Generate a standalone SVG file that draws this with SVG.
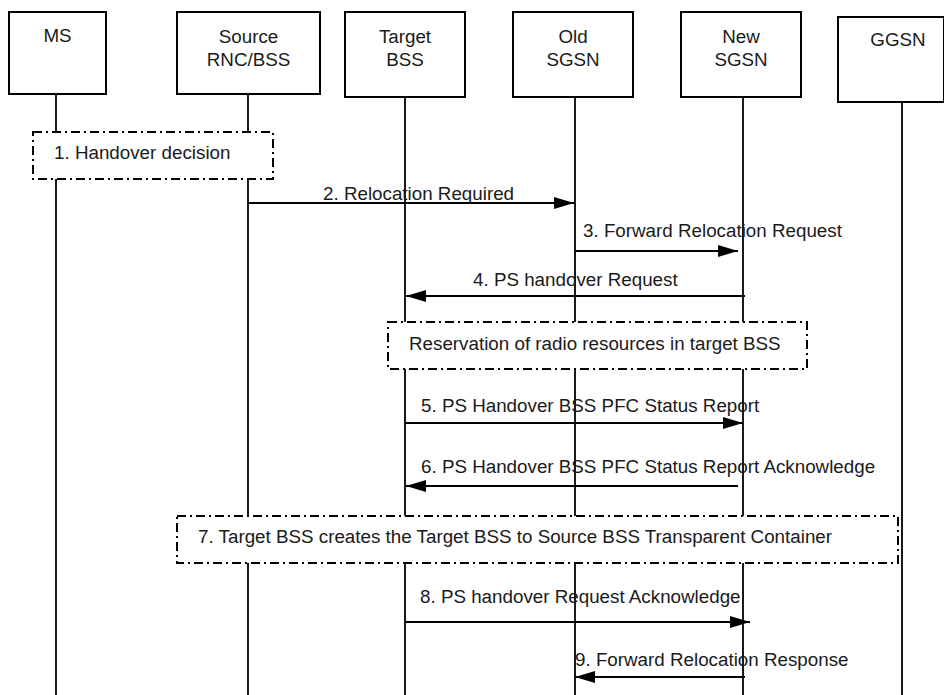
<svg xmlns="http://www.w3.org/2000/svg" width="944" height="695" viewBox="0 0 944 695">
<style>
text{font-family:"Liberation Sans",Arial,sans-serif;font-size:18.8px;fill:#1a1a1a}
.hd{text-anchor:middle}
.box{fill:#fff;stroke:#000;stroke-width:2}
.life{stroke:#000;stroke-width:1.8;fill:none}
.msg{stroke:#000;stroke-width:1.8;fill:none}
.note{fill:#fff;stroke:#000;stroke-width:2;stroke-dasharray:9 4 2 4}
</style>
<defs>
<marker id="ah" markerWidth="20" markerHeight="12" refX="20" refY="6" orient="auto" markerUnits="userSpaceOnUse">
<path d="M0,0 L20,6 L0,12 Z" fill="#000"/>
</marker>
</defs>
<g id="lifelines">
<line class="life" x1="56" y1="94" x2="56" y2="695"/>
<line class="life" x1="248" y1="94" x2="248" y2="695"/>
<line class="life" x1="405" y1="97" x2="405" y2="695"/>
<line class="life" x1="575" y1="97" x2="575" y2="695"/>
<line class="life" x1="743" y1="97" x2="743" y2="695"/>
<line class="life" x1="902" y1="102" x2="902" y2="695"/>
</g>
<g id="MS"><rect class="box" x="9" y="12" width="97" height="82"/><text class="hd" x="57.5" y="42">MS</text></g>
<g id="SourceRNC"><rect class="box" x="177" y="12" width="143" height="82"/><text class="hd" x="248.5" y="43">Source</text><text class="hd" x="248.5" y="66">RNC/BSS</text></g>
<g id="TargetBSS"><rect class="box" x="345" y="12" width="120" height="85"/><text class="hd" x="405" y="43">Target</text><text class="hd" x="405" y="66">BSS</text></g>
<g id="OldSGSN"><rect class="box" x="513" y="12" width="120" height="85"/><text class="hd" x="573" y="43">Old</text><text class="hd" x="573" y="66">SGSN</text></g>
<g id="NewSGSN"><rect class="box" x="681" y="12" width="120" height="85"/><text class="hd" x="741" y="43">New</text><text class="hd" x="741" y="66">SGSN</text></g>
<g id="GGSN"><rect class="box" x="838" y="17" width="106" height="85"/><text class="hd" x="898" y="46">GGSN</text></g>
<g id="note1"><rect class="note" x="33" y="132" width="240" height="47"/><text x="54" y="159">1. Handover decision</text></g>
<g id="note-reservation"><rect class="note" x="388" y="322" width="419" height="47"/><text x="409" y="350">Reservation of radio resources in target BSS</text></g>
<g id="note7"><rect class="note" x="177" y="516" width="721" height="47"/><text x="198" y="543">7. Target BSS creates the Target BSS to Source BSS Transparent Container</text></g>
<g id="connectors">
<line class="msg" x1="248" y1="203" x2="574" y2="203" marker-end="url(#ah)"/>
<text x="323" y="200">2. Relocation Required</text>
<line class="msg" x1="575" y1="251" x2="738" y2="251" marker-end="url(#ah)"/>
<text x="583" y="237">3. Forward Relocation Request</text>
<line class="msg" x1="745" y1="296" x2="406" y2="296" marker-end="url(#ah)"/>
<text x="473" y="286">4. PS handover Request</text>
<line class="msg" x1="405" y1="423" x2="743" y2="423" marker-end="url(#ah)"/>
<text x="421" y="412">5. PS Handover BSS PFC Status Report</text>
<line class="msg" x1="738" y1="486" x2="406" y2="486" marker-end="url(#ah)"/>
<text x="421" y="473">6. PS Handover BSS PFC Status Report Acknowledge</text>
<line class="msg" x1="405" y1="622" x2="750" y2="622" marker-end="url(#ah)"/>
<text x="420" y="603">8. PS handover Request Acknowledge</text>
<line class="msg" x1="745" y1="677" x2="575" y2="677" marker-end="url(#ah)"/>
<text x="575" y="666">9. Forward Relocation Response</text>
</g>
</svg>
